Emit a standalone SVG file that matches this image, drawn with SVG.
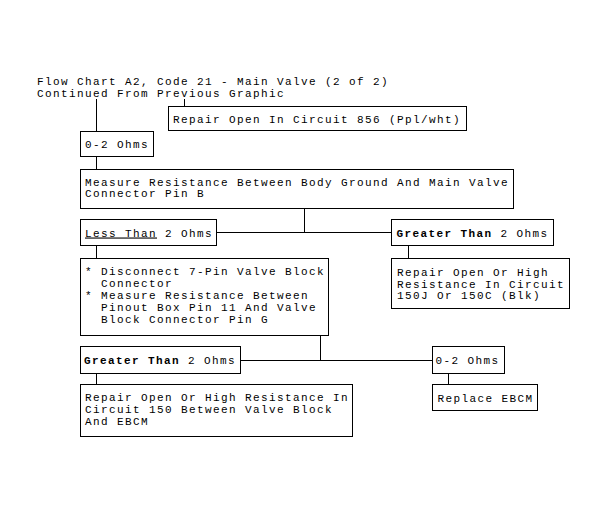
<svg xmlns="http://www.w3.org/2000/svg" width="607" height="512" viewBox="0 0 607 512">
<style>
text{font-family:"Liberation Mono","DejaVu Sans Mono",monospace;font-size:11px;letter-spacing:1.4px;fill:#000}
.b{font-weight:bold}
.u{text-decoration:underline}
rect{fill:#fff;stroke:#000;stroke-width:1}
#connectors line{stroke:#000;stroke-width:1}
</style>
<rect x="0" y="0" width="607" height="512" style="stroke:none"/>
<g shape-rendering="crispEdges">
<g id="title">
<text x="37" y="85">Flow Chart A2, Code 21 - Main Valve (2 of 2)</text>
<text x="37" y="96.5">Continued From Previous Graphic</text>
</g>
<g id="connectors">
<line x1="96.5" y1="99" x2="96.5" y2="131.5"/>
<line x1="184.5" y1="99" x2="184.5" y2="106.5"/>
<line x1="96.5" y1="156.5" x2="96.5" y2="169.5"/>
<line x1="304.5" y1="208.5" x2="304.5" y2="232.5"/>
<line x1="216.5" y1="232.5" x2="391.5" y2="232.5"/>
<line x1="96.5" y1="245.5" x2="96.5" y2="258.5"/>
<line x1="408.5" y1="245.5" x2="408.5" y2="258.5"/>
<line x1="320.5" y1="335.5" x2="320.5" y2="360.5"/>
<line x1="240.5" y1="360.5" x2="432.5" y2="360.5"/>
<line x1="96.5" y1="373.5" x2="96.5" y2="384.5"/>
<line x1="448.5" y1="373.5" x2="448.5" y2="384.5"/>
</g>
<g id="repair856">
<rect x="168.5" y="106.5" width="298" height="24"/>
<text x="173" y="122.5">Repair Open In Circuit 856 (Ppl/wht)</text>
</g>
<g id="ohms1">
<rect x="80.5" y="131.5" width="73" height="25"/>
<text x="85" y="148">0-2 Ohms</text>
</g>
<g id="measure">
<rect x="80.5" y="169.5" width="433" height="39"/>
<text x="85" y="185.5">Measure Resistance Between Body Ground And Main Valve</text>
<text x="85" y="197">Connector Pin B</text>
</g>
<g id="less">
<rect x="80.5" y="219.5" width="136" height="26"/>
<text x="85" y="236.5"><tspan class="u">Less Than</tspan> 2 Ohms</text>
</g>
<g id="greater1">
<rect x="391.5" y="219.5" width="162" height="26"/>
<text x="396.5" y="236.5"><tspan class="b">Greater Than</tspan> 2 Ohms</text>
</g>
<g id="disconnect">
<rect x="80.5" y="258.5" width="248" height="77"/>
<text x="85" y="274.5">* Disconnect 7-Pin Valve Block</text>
<text x="101" y="286.5">Connector</text>
<text x="85" y="298.5">* Measure Resistance Between</text>
<text x="101" y="310.5">Pinout Box Pin 11 And Valve</text>
<text x="101" y="322.5">Block Connector Pin G</text>
</g>
<g id="repairHigh">
<rect x="391.5" y="258.5" width="178" height="50"/>
<text x="397" y="275.5">Repair Open Or High</text>
<text x="397" y="287.5">Resistance In Circuit</text>
<text x="397" y="299">150J Or 150C (Blk)</text>
</g>
<g id="greater2">
<rect x="80.5" y="346.5" width="160" height="27"/>
<text x="84" y="364"><tspan class="b">Greater Than</tspan> 2 Ohms</text>
</g>
<g id="ohms2">
<rect x="432.5" y="346.5" width="72" height="27"/>
<text x="435.5" y="364">0-2 Ohms</text>
</g>
<g id="repair150">
<rect x="80.5" y="384.5" width="272" height="52"/>
<text x="85" y="401">Repair Open Or High Resistance In</text>
<text x="85" y="413">Circuit 150 Between Valve Block</text>
<text x="85" y="425">And EBCM</text>
</g>
<g id="replace">
<rect x="432.5" y="384.5" width="105" height="26"/>
<text x="437.5" y="401.5">Replace EBCM</text>
</g>
</g>
</svg>
